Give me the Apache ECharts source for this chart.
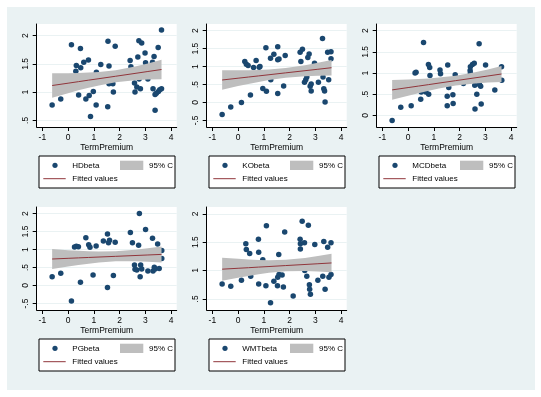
<!DOCTYPE html>
<html>
<head>
<meta charset="utf-8">
<script src="https://cdn.jsdelivr.net/npm/echarts@6/dist/echarts.min.js"></script>
<style>
html, body { margin: 0; padding: 0; background: #fff; }
#main { width: 541px; height: 397px; }
</style>
</head>
<body>
<div id="main"></div>
<script>
// scatter points [TermPremium, beta]
const hdPoints = [[-0.62, 0.77], [-0.285, 0.88], [0.13, 1.84], [0.48, 1.77], [0.32, 1.47], [0.30, 1.37], [0.49, 1.43], [0.61, 1.53], [0.41, 0.95], [0.69, 0.88], [0.79, 1.57], [0.82, 0.94], [0.87, 0.57], [0.98, 1.01], [1.09, 0.77], [1.10, 1.35], [1.27, 1.49], [1.55, 1.90], [1.54, 0.74], [1.59, 1.46], [1.59, 1.15], [1.74, 1.15], [1.76, 1.00], [1.83, 1.81], [2.41, 1.56], [2.44, 1.45], [2.58, 1.16], [2.67, 1.09], [2.60, 1.00], [2.75, 1.91], [2.86, 1.87], [2.71, 1.62], [2.81, 1.06], [2.76, 1.23], [2.99, 1.69], [3.01, 1.52], [3.10, 1.23], [3.28, 1.53], [3.34, 1.63], [3.30, 1.06], [3.38, 0.96], [3.38, 0.68], [3.43, 0.98], [3.50, 1.79], [3.51, 1.01], [3.56, 1.04], [3.63, 1.06], [3.63, 2.10]]
const koPoints = [[-0.62, -0.34], [-0.285, -0.13], [0.13, 0.00], [0.26, 1.14], [0.32, 1.06], [0.39, 1.03], [0.48, 0.21], [0.60, 0.97], [0.70, 1.17], [0.82, 0.98], [0.85, 1.00], [0.96, 0.39], [1.08, 1.52], [1.10, 0.31], [1.26, 1.23], [1.27, 0.63], [1.39, 1.34], [1.54, 1.55], [1.54, 1.19], [1.54, 0.25], [1.59, 1.21], [1.77, 0.46], [1.83, 1.31], [2.41, 1.40], [2.44, 1.14], [2.50, 1.48], [2.58, 0.56], [2.63, 0.63], [2.67, 0.71], [2.71, 1.25], [2.76, 1.35], [2.80, 0.45], [2.84, 0.32], [2.84, 0.51], [2.97, 1.09], [3.12, 0.56], [3.28, 1.78], [3.30, 0.71], [3.33, 0.38], [3.36, 0.32], [3.38, 0.01], [3.48, 1.40], [3.52, 0.63], [3.61, 1.41], [3.61, 1.22]]
const mcdPoints = [[-0.62, -0.12], [-0.285, 0.19], [0.12, 0.23], [0.27, 1.00], [0.31, 1.02], [0.49, 0.38], [0.51, 0.55], [0.60, 1.72], [0.69, 0.55], [0.79, 1.20], [0.80, 0.50], [0.84, 1.13], [0.85, 0.94], [1.24, 1.07], [1.26, 0.98], [1.39, 0.83], [1.52, 0.23], [1.52, 0.45], [1.54, 1.19], [1.58, 0.66], [1.74, 0.49], [1.75, 0.28], [1.83, 0.96], [2.15, 0.75], [2.41, 1.06], [2.42, 1.15], [2.42, 1.00], [2.50, 1.20], [2.57, 1.23], [2.59, 0.71], [2.60, 0.15], [2.67, 0.50], [2.76, 1.69], [2.77, 0.73], [2.82, 0.69], [2.84, 0.27], [3.01, 1.19], [3.37, 0.60], [3.63, 1.15], [3.64, 0.83]]
const pgPoints = [[-0.62, 0.24], [-0.285, 0.34], [0.13, -0.43], [0.25, 1.07], [0.32, 1.09], [0.40, 1.08], [0.48, 0.09], [0.69, 1.33], [0.80, 1.13], [0.85, 1.06], [0.97, 0.29], [1.09, 1.10], [1.37, 1.24], [1.53, -0.06], [1.53, 1.43], [1.57, 1.19], [1.61, 1.26], [1.76, 0.28], [1.83, 1.20], [2.42, 1.47], [2.50, 1.19], [2.58, 0.57], [2.60, 0.45], [2.67, 0.43], [2.74, 1.12], [2.77, 2.00], [2.80, 0.24], [2.82, 0.57], [2.86, 0.46], [3.01, 1.56], [3.10, 0.40], [3.28, 1.31], [3.30, 0.40], [3.35, 0.51], [3.38, 0.46], [3.48, 1.15], [3.54, 0.47], [3.64, 0.75], [3.64, 0.97]]
const wmtPoints = [[-0.62, 0.76], [-0.285, 0.72], [0.13, 0.83], [0.30, 1.47], [0.32, 1.37], [0.45, 1.30], [0.49, 0.90], [0.79, 1.55], [0.80, 1.32], [0.80, 0.76], [0.96, 1.19], [1.10, 1.79], [1.08, 0.73], [1.26, 0.43], [1.39, 0.81], [1.53, 0.73], [1.54, 0.88], [1.58, 1.28], [1.59, 0.93], [1.71, 0.92], [1.76, 0.71], [1.81, 1.68], [2.14, 0.55], [2.41, 1.55], [2.42, 1.38], [2.42, 1.47], [2.49, 1.87], [2.58, 1.49], [2.59, 1.00], [2.67, 0.90], [2.73, 1.80], [2.77, 0.75], [2.78, 0.67], [2.81, 0.58], [2.98, 1.46], [3.10, 0.83], [3.29, 0.90], [3.33, 1.51], [3.38, 0.67], [3.48, 1.41], [3.53, 0.88], [3.61, 1.49], [3.61, 0.93]]

// fitted values and 95% CI, read at these TermPremium positions
const ciX = [-0.62, 0, 0.4, 0.8, 1.2, 1.85, 2.6, 3.1, 3.63]
const hdFit = [1.117, 1.158, 1.185, 1.212, 1.238, 1.281, 1.331, 1.365, 1.400]
const hdLow = [0.901, 0.981, 1.031, 1.078, 1.119, 1.173, 1.209, 1.222, 1.227]
const hdHigh = [1.333, 1.335, 1.339, 1.346, 1.357, 1.389, 1.453, 1.508, 1.573]
const koFit = [0.625, 0.675, 0.707, 0.739, 0.771, 0.824, 0.884, 0.924, 0.967]
const koLow = [0.356, 0.454, 0.515, 0.572, 0.623, 0.689, 0.732, 0.745, 0.751]
const koHigh = [0.894, 0.896, 0.899, 0.906, 0.919, 0.959, 1.036, 1.103, 1.183]
const mcdFit = [0.602, 0.657, 0.692, 0.727, 0.763, 0.820, 0.886, 0.930, 0.977]
const mcdLow = [0.369, 0.466, 0.525, 0.582, 0.634, 0.703, 0.754, 0.775, 0.790]
const mcdHigh = [0.835, 0.848, 0.859, 0.872, 0.892, 0.937, 1.018, 1.085, 1.164]
const pgFit = [0.736, 0.755, 0.767, 0.779, 0.791, 0.810, 0.833, 0.848, 0.864]
const pgLow = [0.459, 0.528, 0.569, 0.607, 0.638, 0.671, 0.676, 0.663, 0.642]
const pgHigh = [1.013, 0.982, 0.965, 0.951, 0.944, 0.949, 0.990, 1.033, 1.086]
const wmtFit = [1.023, 1.039, 1.049, 1.060, 1.070, 1.087, 1.106, 1.119, 1.133]
const wmtLow = [0.820, 0.872, 0.904, 0.934, 0.958, 0.985, 0.991, 0.984, 0.970]
const wmtHigh = [1.226, 1.206, 1.194, 1.186, 1.182, 1.189, 1.221, 1.254, 1.296]

// axis ticks and ranges
const xTicks = [-1, 0, 1, 2, 3, 4]
const xRange = [-1.22, 4.22]
const hdTicks = [0.5, 1, 1.5, 2]
const koTicks = [-0.5, 0, 0.5, 1, 1.5, 2]
const mcdTicks = [0, 0.5, 1, 1.5, 2]
const pgTicks = [-0.5, 0, 0.5, 1, 1.5, 2]
const wmtTicks = [0.5, 1, 1.5, 2]
const hdRange = [0.383, 2.205]
const koRange = [-0.685, 2.185]
const mcdRange = [-0.273, 2.156]
const pgRange = [-0.683, 2.183]
const wmtRange = [0.303, 2.12]

const panels = [
  { name: 'HDbeta', pts: hdPoints, fit: hdFit, lo: hdLow, hi: hdHigh, ticks: hdTicks, range: hdRange },
  { name: 'KObeta', pts: koPoints, fit: koFit, lo: koLow, hi: koHigh, ticks: koTicks, range: koRange },
  { name: 'MCDbeta', pts: mcdPoints, fit: mcdFit, lo: mcdLow, hi: mcdHigh, ticks: mcdTicks, range: mcdRange },
  { name: 'PGbeta', pts: pgPoints, fit: pgFit, lo: pgLow, hi: pgHigh, ticks: pgTicks, range: pgRange },
  { name: 'WMTbeta', pts: wmtPoints, fit: wmtFit, lo: wmtLow, hi: wmtHigh, ticks: wmtTicks, range: wmtRange }
]

const NAVY = '#1a476f'
const MAROON = '#90353b'
const BAND = '#bebebe'
const REGION = '#eaf2f3'
const FONT = 'Liberation Sans, Arial, sans-serif'

const colLeft = [36.7, 206.7, 376.7]
const rowTop = [24, 207]
const plotW = 140
const plotH = 103

// stata drops the leading zero: .5, -.5
const fmt = v => String(v).replace(/^(-?)0\./, '$1.')

const grids = []
const xAxes = []
const yAxes = []
const series = []
const graphics = [{
  type: 'rect', z: -100, silent: true,
  shape: { x: 7, y: 7, width: 528, height: 383 },
  style: { fill: REGION }
}]

panels.forEach((p, i) => {
  const left = colLeft[i % 3]
  const top = rowTop[Math.floor(i / 3)]
  grids.push({
    left: left, top: top, width: plotW, height: plotH,
    show: true, backgroundColor: '#fff', borderWidth: 0,
    containLabel: false, outerBoundsMode: 'none'
  })
  xAxes.push({
    gridIndex: i, type: 'value', min: xRange[0], max: xRange[1],
    name: 'TermPremium', nameLocation: 'middle', nameGap: 15,
    nameTextStyle: { color: '#000', fontSize: 8.5, fontFamily: FONT },
    axisLine: { show: true, onZero: false, lineStyle: { color: '#000', width: 1 } },
    axisTick: { show: true, length: 4, customValues: xTicks, lineStyle: { color: '#000' } },
    axisLabel: { customValues: xTicks, margin: 6, color: '#000', fontSize: 8.5, fontFamily: FONT },
    splitLine: { show: false }
  })
  yAxes.push({
    gridIndex: i, type: 'value', min: p.range[0], max: p.range[1],
    axisLine: { show: true, onZero: false, lineStyle: { color: '#000', width: 1 } },
    axisTick: { show: true, length: 4, customValues: p.ticks, lineStyle: { color: '#000' } },
    axisLabel: { customValues: p.ticks, rotate: 90, margin: 7, color: '#000', fontSize: 8.5, fontFamily: FONT, formatter: fmt },
    splitLine: { show: true, lineStyle: { color: REGION, width: 1 } }
  })
  series.push({
    type: 'scatter', xAxisIndex: i, yAxisIndex: i, z: 2,
    data: p.pts, symbol: 'circle', symbolSize: 5.5,
    itemStyle: { color: NAVY, opacity: 1 }
  })
  series.push({
    type: 'custom', xAxisIndex: i, yAxisIndex: i, z: 3,
    data: ciX.map((x, k) => [x, p.lo[k], p.hi[k]]),
    encode: { x: 0, y: [1, 2] },
    renderItem: (params, api) => {
      if (params.dataIndex !== 0) return null
      const upper = ciX.map((x, k) => api.coord([x, p.hi[k]]))
      const lower = ciX.map((x, k) => api.coord([x, p.lo[k]])).reverse()
      return { type: 'polygon', shape: { points: upper.concat(lower) }, style: { fill: BAND, opacity: 1 } }
    }
  })
  series.push({
    type: 'line', xAxisIndex: i, yAxisIndex: i, z: 4,
    data: ciX.map((x, k) => [x, p.fit[k]]),
    showSymbol: false, symbol: 'none',
    lineStyle: { color: MAROON, width: 1 }
  })

  // legend box under each panel
  const bx = left + 2.3
  const by = top + 132
  const ts = { fill: '#000', fontSize: 8, fontFamily: FONT, verticalAlign: 'middle' }
  graphics.push(
    { type: 'rect', shape: { x: bx, y: by, width: 136, height: 32 }, style: { fill: '#fff', stroke: '#000', lineWidth: 1 } },
    { type: 'circle', shape: { cx: bx + 16, cy: by + 9.3, r: 2.6 }, style: { fill: NAVY } },
    { type: 'text', x: bx + 33.3, y: by + 9.3, style: Object.assign({ text: p.name }, ts) },
    { type: 'rect', shape: { x: bx + 81, y: by + 4.7, width: 23.3, height: 9.3 }, style: { fill: BAND } },
    { type: 'text', x: bx + 110, y: by + 9.3, style: Object.assign({ text: '95% CI', width: 25.5, overflow: 'truncate', ellipsis: '' }, ts) },
    { type: 'line', shape: { x1: bx + 4.3, y1: by + 22.7, x2: bx + 26.7, y2: by + 22.7 }, style: { stroke: MAROON, lineWidth: 1 } },
    { type: 'text', x: bx + 33.3, y: by + 22.7, style: Object.assign({ text: 'Fitted values' }, ts) }
  )
})

const chart = echarts.init(document.getElementById('main'), null, { renderer: 'canvas' })
chart.setOption({
  backgroundColor: '#fff',
  animation: false,
  grid: grids,
  xAxis: xAxes,
  yAxis: yAxes,
  series: series,
  graphic: graphics
})
</script>
</body>
</html>
